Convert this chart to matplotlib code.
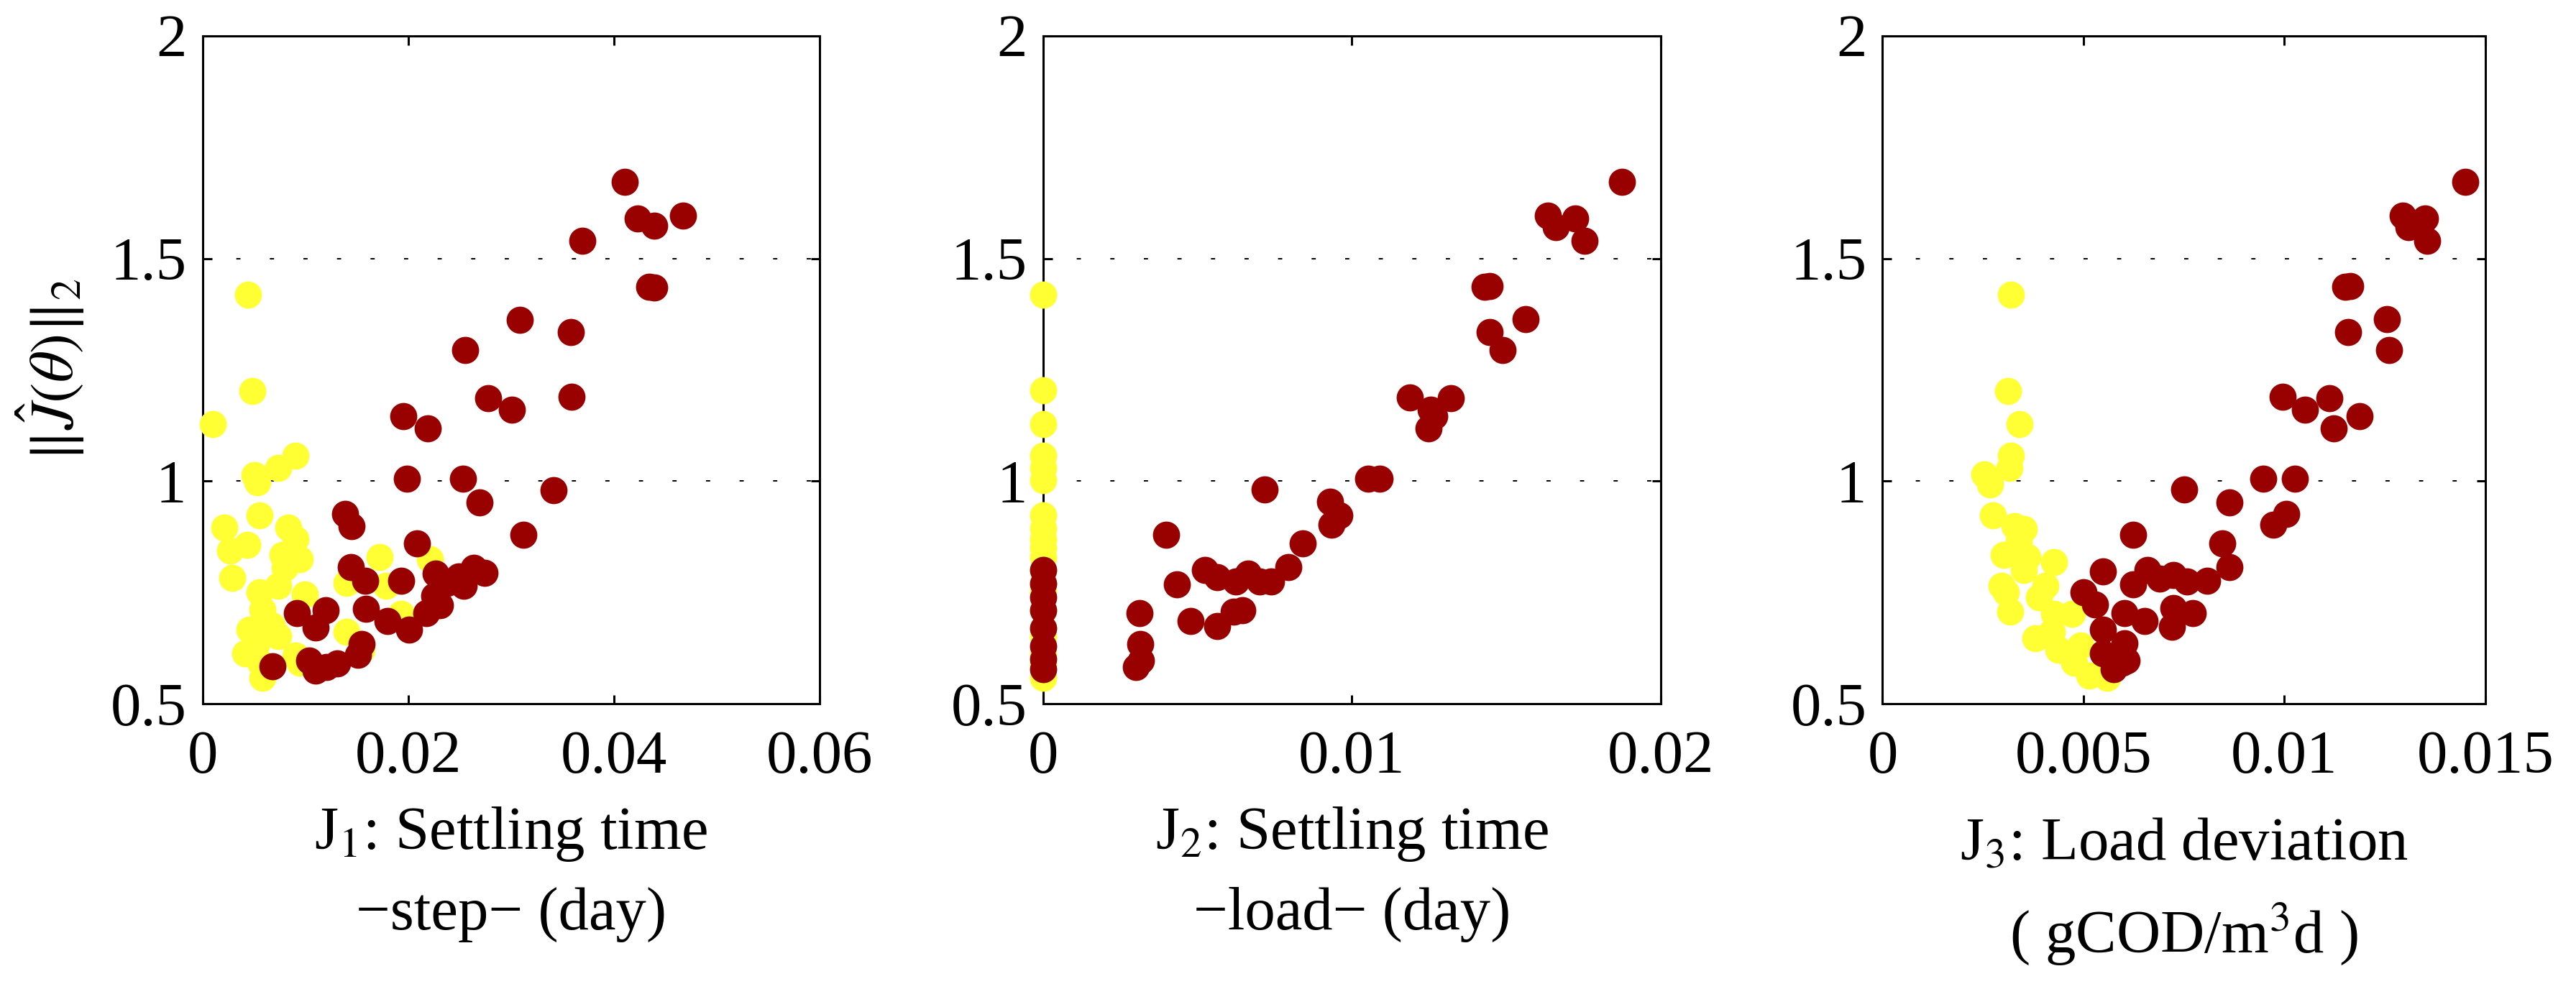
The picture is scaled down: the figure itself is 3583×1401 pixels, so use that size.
import matplotlib
matplotlib.use("Agg")
from matplotlib import pyplot as plt

plt.rcParams["font.family"] = ["Liberation Serif", "DejaVu Serif"]
plt.rcParams["mathtext.fontset"] = "stix"

YELLOW = "#ffff33"
DARKRED = "#990000"

# ------ panel 1: J1 settling time (step)
j1_yellow_x = [0.00445, 0.00488, 0.00103, 0.00907, 0.00736, 0.00509, 0.00535, 0.00556,
               0.00210, 0.00834, 0.00907, 0.00436, 0.00265, 0.00779, 0.00950, 0.00287,
               0.00736, 0.00552, 0.00993, 0.00586, 0.00458, 0.00736, 0.00672, 0.00415,
               0.00586, 0.00565, 0.00907, 0.01399, 0.01399, 0.01720, 0.01784, 0.02212,
               0.01934, 0.00800, 0.00522, 0.01549, 0.00950]
j1_yellow_y = [1.418, 1.203, 1.128, 1.057, 1.030, 1.013, 0.998, 0.924,
               0.896, 0.896, 0.870, 0.857, 0.845, 0.835, 0.825, 0.783,
               0.766, 0.751, 0.746, 0.712, 0.667, 0.652, 0.677, 0.613,
               0.558, 0.593, 0.608, 0.662, 0.771, 0.830, 0.766, 0.825,
               0.702, 0.805, 0.632, 0.622, 0.593]
j1_red_x = [0.04107, 0.04235, 0.04394, 0.04672, 0.03696, 0.04342, 0.04394, 0.03089,
            0.03581, 0.02554, 0.02776, 0.03012, 0.03589, 0.01955, 0.02190, 0.01989,
            0.02537, 0.02695, 0.03418, 0.01390, 0.01450, 0.03123, 0.02083, 0.01446,
            0.01583, 0.01929, 0.02267, 0.02490, 0.02541, 0.02640, 0.02746, 0.02383,
            0.00920, 0.01198, 0.01099, 0.01591, 0.01797, 0.02006, 0.02177, 0.02310,
            0.01549, 0.01514, 0.01035, 0.01099, 0.01206, 0.01313, 0.00684, 0.02255]
j1_red_y = [1.672, 1.589, 1.573, 1.596, 1.540, 1.437, 1.435, 1.362,
            1.334, 1.294, 1.186, 1.160, 1.189, 1.146, 1.119, 1.006,
            1.005, 0.952, 0.980, 0.926, 0.899, 0.879, 0.860, 0.808,
            0.776, 0.777, 0.792, 0.786, 0.766, 0.805, 0.795, 0.771,
            0.704, 0.711, 0.672, 0.714, 0.687, 0.667, 0.704, 0.721,
            0.634, 0.610, 0.598, 0.575, 0.583, 0.591, 0.585, 0.742]

# ------ panel 2: J2 settling time (load)
j2_yellow_x = [0.0] * 20
j2_yellow_y = [1.418, 1.204, 1.128, 1.057, 1.030, 1.003, 0.924, 0.894, 0.870, 0.850,
               0.830, 0.800, 0.770, 0.750, 0.710, 0.670, 0.650, 0.610, 0.590, 0.558]
j2_red_x = [0.01874, 0.01636, 0.01660, 0.01724, 0.01753, 0.01429, 0.01446, 0.01563,
            0.01446, 0.01489, 0.01189, 0.01256, 0.01267, 0.01321, 0.01249, 0.01053,
            0.01089, 0.00717, 0.00929, 0.00960, 0.00934, 0.00397, 0.00841, 0.00794,
            0.00524, 0.00563, 0.00624, 0.00663, 0.00700, 0.00739, 0.00434, 0.00313,
            0.00617, 0.00646, 0.00477, 0.00563, 0.00314, 0.00317, 0.00300,
            0.0, 0.0, 0.0, 0.0, 0.0, 0.0, 0.0, 0.0]
j2_red_y = [1.672, 1.596, 1.571, 1.589, 1.540, 1.436, 1.438, 1.364,
            1.334, 1.294, 1.188, 1.161, 1.146, 1.186, 1.119, 1.006,
            1.006, 0.981, 0.954, 0.924, 0.902, 0.879, 0.860, 0.807,
            0.800, 0.785, 0.775, 0.792, 0.775, 0.775, 0.768, 0.704,
            0.707, 0.711, 0.687, 0.675, 0.635, 0.598, 0.583,
            0.800, 0.770, 0.740, 0.710, 0.670, 0.630, 0.600, 0.578]

# ------ panel 3: J3 load deviation
j3_yellow_x = [0.00320, 0.00313, 0.00341, 0.00320, 0.00315, 0.00254, 0.00268, 0.00274,
               0.00329, 0.00351, 0.00340, 0.00301, 0.00361, 0.00427, 0.00296, 0.00351,
               0.00405, 0.00389, 0.00318, 0.00427, 0.00471, 0.00381, 0.00422, 0.00438,
               0.00476, 0.00515, 0.00559, 0.00493, 0.00465, 0.00307]
j3_yellow_y = [1.418, 1.203, 1.128, 1.057, 1.030, 1.015, 0.993, 0.924,
               0.899, 0.892, 0.865, 0.835, 0.830, 0.818, 0.766, 0.800,
               0.766, 0.739, 0.707, 0.702, 0.702, 0.647, 0.662, 0.622,
               0.593, 0.563, 0.558, 0.632, 0.613, 0.751]
j3_red_x = [0.01451, 0.01295, 0.01309, 0.01350, 0.01356, 0.01152, 0.01164, 0.01256,
            0.01159, 0.01260, 0.00995, 0.01051, 0.01112, 0.01188, 0.01123, 0.00947,
            0.01027, 0.00750, 0.00863, 0.01005, 0.00973, 0.00624, 0.00846, 0.00863,
            0.00548, 0.00659, 0.00624, 0.00690, 0.00723, 0.00758, 0.00808, 0.00501,
            0.00529, 0.00602, 0.00652, 0.00723, 0.00772, 0.00721, 0.00548, 0.00602,
            0.00548, 0.00608, 0.00575, 0.00597]
j3_red_y = [1.672, 1.596, 1.571, 1.589, 1.540, 1.436, 1.438, 1.364,
            1.334, 1.294, 1.189, 1.160, 1.186, 1.146, 1.119, 1.006,
            1.006, 0.981, 0.952, 0.926, 0.902, 0.879, 0.860, 0.807,
            0.797, 0.800, 0.768, 0.781, 0.790, 0.775, 0.777, 0.751,
            0.723, 0.704, 0.687, 0.716, 0.704, 0.674, 0.667, 0.637,
            0.613, 0.598, 0.578, 0.593]

x_ticks = [[0, 0.02, 0.04, 0.06], [0, 0.01, 0.02], [0, 0.005, 0.01, 0.015]]
x_ticklabels = [["0", "0.02", "0.04", "0.06"], ["0", "0.01", "0.02"],
                ["0", "0.005", "0.01", "0.015"]]
x_labels = ["J$_1$: Settling time\n\u2212step\u2212 (day)",
            "J$_2$: Settling time\n\u2212load\u2212 (day)",
            "J$_3$: Load deviation\n( gCOD/m$^3$d )"]
y_ticks = [0.5, 1, 1.5, 2]
y_ticklabels = ["0.5", "1", "1.5", "2"]

panels = [(j1_yellow_x, j1_yellow_y, j1_red_x, j1_red_y),
          (j2_yellow_x, j2_yellow_y, j2_red_x, j2_red_y),
          (j3_yellow_x, j3_yellow_y, j3_red_x, j3_red_y)]

# ------

FS = 61
fig = plt.figure(figsize=(35.83, 14.01), dpi=100)
rects = [[0.0786, 0.3009, 0.2395, 0.6637],
         [0.4050, 0.3009, 0.2396, 0.6637],
         [0.7308, 0.3009, 0.2340, 0.6637]]
label_pads = [20, 20, 32]

for i, (yx, yy, rx, ry) in enumerate(panels):
    ax = fig.add_axes(rects[i])
    ax.scatter(yx, yy, s=740, c=YELLOW, linewidths=0, clip_on=False, zorder=6)
    ax.scatter(rx, ry, s=740, c=DARKRED, linewidths=0, clip_on=False, zorder=7)
    ax.set_xlim(x_ticks[i][0], x_ticks[i][-1])
    ax.set_ylim(0.5, 2)
    ax.set_xticks(x_ticks[i])
    ax.set_xticklabels(x_ticklabels[i])
    ax.set_yticks(y_ticks)
    ax.set_yticklabels(y_ticklabels)
    for yg in [1, 1.5]:
        ax.axhline(yg, color="k", lw=1.4, linestyle=(0, (3, 21)), zorder=1)
    for sp in ax.spines.values():
        sp.set_linewidth(2.2)
        sp.set_zorder(3)
    ax.tick_params(axis="both", which="both", direction="in", length=9, width=2.2,
                   top=True, right=True, labelsize=FS)
    ax.tick_params(axis="x", pad=26)
    ax.tick_params(axis="y", pad=16)
    ax.set_xlabel(x_labels[i], fontsize=FS, linespacing=1.55, labelpad=label_pads[i])

fig.text(70 / 3583, 1 - 515 / 1401, r"$\|\hat{J}(\theta)\|_2$", rotation=90,
         ha="center", va="center", fontsize=FS)

fig.savefig("out.png", dpi=100)
